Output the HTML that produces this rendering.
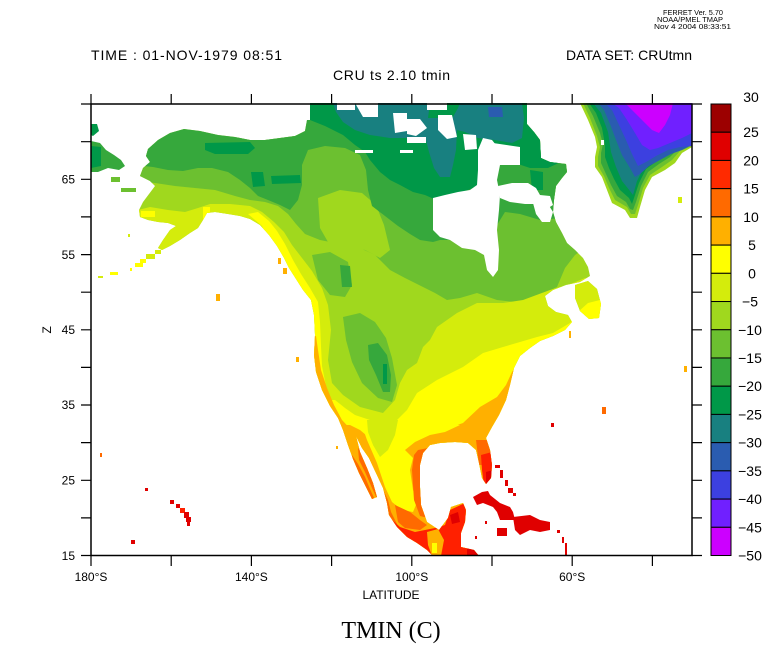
<!DOCTYPE html>
<html><head><meta charset="utf-8"><style>
html,body{margin:0;padding:0;background:#fff;}
svg{display:block;}
text{font-family:"Liberation Sans",sans-serif;fill:#000;}
</style></head><body>
<svg width="768" height="662" viewBox="0 0 768 662" xmlns="http://www.w3.org/2000/svg">
<rect x="0" y="0" width="768" height="662" fill="#fff"/>
<defs>
<clipPath id="land">
<path d="M 140,176 L 143,168 L 150,162 L 146,156 L 148,149 L 158,140 L 170,133 L 184,129 L 200,131 L 218,135 L 235,137 L 250,140 L 265,140 L 280,138 L 295,136 L 305,131 L 307,120 L 308,103 L 527,103 L 527,124 L 534,132 L 540,140 L 541,158 L 550,162 L 566,164 L 567,172 L 562,178 L 556,186 L 554,200 L 553,212 L 556,222 L 562,233 L 567,243 L 575,250 L 583,258 L 588,267 L 590,276 L 580,282 L 566,285 L 553,290 L 545,296 L 548,306 L 556,312 L 568,315 L 572,322 L 565,330 L 553,336 L 540,341 L 530,348 L 520,356 L 514,368 L 510,385 L 506,400 L 499,415 L 492,427 L 486,438 L 490,450 L 492,465 L 491,478 L 486,484 L 482,478 L 479,463 L 476,450 L 468,443 L 455,442 L 440,443 L 430,445 L 423,453 L 420,465 L 420,487 L 421,505 L 427,522 L 439,530 L 448,518 L 451,507 L 463,503 L 466,510 L 465,522 L 461,533 L 461,547 L 474,550 L 479,556 L 433,556 L 427,550 L 417,543 L 407,537 L 397,527 L 389,515 L 387,503 L 383,488 L 376,473 L 369,458 L 362,448 L 356,436 L 360,452 L 367,468 L 373,483 L 377,497 L 372,499 L 366,487 L 359,473 L 353,459 L 348,445 L 343,430 L 338,418 L 330,406 L 322,390 L 316,372 L 314,355 L 315,335 L 314,315 L 311,300 L 303,290 L 296,279 L 289,268 L 284,258 L 277,246 L 269,235 L 260,225 L 250,219 L 240,216 L 228,214 L 215,212 L 207,213 L 203,220 L 198,228 L 190,233 L 180,240 L 170,246 L 162,250 L 158,248 L 163,240 L 170,230 L 176,226 L 168,223 L 158,222 L 148,220 L 140,217 L 139,210 L 143,202 L 149,194 L 155,186 L 150,181 Z
M 575,285 L 588,281 L 597,289 L 601,304 L 599,318 L 589,319 L 580,311 L 575,298 Z"/>
</clipPath>
</defs>

<!-- Chukotka -->
<path d="M 91,141 L 100,143 L 106,150 L 114,155 L 121,160 L 125,166 L 119,170 L 108,168 L 98,172 L 91,172 Z" fill="#36a83c"/>
<path d="M 91,146 L 101,147 L 101,166 L 91,168 Z" fill="#009848"/>
<path d="M 91,124 L 97,124 L 99,131 L 93,136 L 91,135 Z" fill="#009848"/>
<rect x="121" y="188" width="15" height="4" fill="#6cc030"/>
<rect x="111" y="177" width="9" height="5" fill="#6cc030"/>

<g clip-path="url(#land)">
<rect x="80" y="100" width="620" height="460" fill="#a0d81e"/>
<path d="M 130,150 L 170,140 L 300,135 L 320,125 L 600,125 L 600,237 L 575,255 L 565,268 L 557,287 L 540,295 L 523,303 L 497,300 L 477,293 L 460,298 L 447,300 L 435,293 L 423,287 L 405,278 L 390,270 L 375,255 L 360,248 L 340,244 L 320,240 L 305,234 L 296,224 L 288,214 L 278,206 L 265,202 L 250,200 L 235,196 L 215,190 L 195,188 L 175,186 L 155,183 L 130,180 Z" fill="#6cc030"/>
<path d="M 318,198 L 340,190 L 362,193 L 376,205 L 384,225 L 390,250 L 380,258 L 365,250 L 345,246 L 328,242 L 320,228 Z" fill="#a0d81e"/>
<path d="M 130,148 L 165,132 L 190,127 L 300,130 L 308,103 L 600,103 L 600,205 L 575,212 L 560,218 L 540,220 L 520,214 L 505,212 L 497,225 L 480,240 L 440,240 L 433,242 L 420,240 L 410,234 L 398,226 L 385,216 L 372,206 L 368,190 L 366,170 L 360,155 L 345,148 L 325,146 L 308,150 L 302,165 L 302,185 L 298,200 L 290,210 L 280,205 L 268,200 L 258,196 L 250,188 L 240,180 L 228,172 L 212,168 L 198,168 L 183,171 L 168,170 L 153,167 L 135,165 Z" fill="#36a83c"/>
<path d="M 205,143 L 250,142 L 255,148 L 248,154 L 215,154 L 205,150 Z" fill="#009848"/>
<path d="M 251,172 L 263,172 L 265,186 L 253,187 Z" fill="#009848"/>
<path d="M 271,176 L 300,175 L 301,183 L 272,184 Z" fill="#009848"/>
<path d="M 530,170 L 543,172 L 543,190 L 532,190 Z" fill="#009848"/>
<path d="M 310,103 L 580,103 L 580,150 L 565,160 L 548,168 L 530,168 L 515,163 L 500,160 L 492,175 L 480,185 L 468,190 L 455,194 L 444,198 L 434,199 L 425,195 L 413,192 L 400,185 L 390,180 L 380,172 L 370,160 L 365,152 L 355,145 L 343,135 L 325,126 L 310,120 Z" fill="#009848"/>
<path d="M 333,103 L 430,103 L 428,118 L 438,118 L 453,117 L 458,108 L 460,103 L 522,103 L 524,118 L 522,138 L 512,143 L 495,140 L 478,138 L 465,132 L 457,130 L 456,150 L 453,165 L 450,177 L 440,177 L 434,168 L 429,152 L 426,140 L 410,138 L 390,138 L 370,135 L 355,130 L 343,122 L 336,112 Z" fill="#188080"/>
<path d="M 488,107 L 502,107 L 503,117 L 489,117 Z" fill="#2a5cb0"/>
<path d="M 312,255 L 330,252 L 348,262 L 352,285 L 345,297 L 330,295 L 318,280 Z" fill="#6cc030"/>
<path d="M 340,265 L 350,266 L 352,287 L 342,287 Z" fill="#36a83c"/>
<path d="M 343,317 L 360,313 L 375,322 L 386,338 L 392,358 L 397,385 L 392,402 L 378,398 L 362,383 L 352,362 L 346,340 Z" fill="#6cc030"/>
<path d="M 368,345 L 378,343 L 387,355 L 391,375 L 390,392 L 383,392 L 376,375 L 369,360 Z" fill="#36a83c"/>
<rect x="383" y="364" width="4" height="20" fill="#009848"/>
<path d="M 620,268 L 605,277 L 585,278 L 573,283 L 550,290 L 523,300 L 503,303 L 477,303 L 457,313 L 437,327 L 430,340 L 423,347 L 417,363 L 407,370 L 400,383 L 395,400 L 383,413 L 360,407 L 343,395 L 332,383 L 328,360 L 331,330 L 328,305 L 322,288 L 312,271 L 302,258 L 292,245 L 284,232 L 274,222 L 262,212 L 250,206 L 230,204 L 210,204 L 198,208 L 185,212 L 168,210 L 150,207 L 130,212 L 90,260 L 90,560 L 620,560 Z" fill="#d4ec0c"/>
<path d="M 248,214 L 262,226 L 268,240 L 276,260 L 286,276 L 294,290 L 300,302 L 302,320 L 303,345 L 306,372 L 312,393 L 322,412 L 332,425 L 341,418 L 333,404 L 326,386 L 322,366 L 321,346 L 320,322 L 318,302 L 310,288 L 301,274 L 293,260 L 285,244 L 277,231 L 269,221 L 258,212 Z" fill="#ffff00"/>
<rect x="203" y="207" width="7" height="14" fill="#ffff00"/>
<rect x="141" y="211" width="14" height="6" fill="#ffff00"/>
<path d="M 620,298 L 600,300 L 588,303 L 578,312 L 570,323 L 553,333 L 537,337 L 520,342 L 503,347 L 483,353 L 463,367 L 437,380 L 417,393 L 407,410 L 397,420 L 385,424 L 370,420 L 355,415 L 345,408 L 335,400 L 300,400 L 300,560 L 620,560 Z" fill="#ffff00"/>
<path d="M 300,338 L 303,345 L 306,372 L 312,393 L 322,412 L 332,427 L 345,440 L 352,455 L 360,470 L 370,482 L 376,470 L 366,450 L 356,435 L 342,420 L 334,405 L 327,388 L 321,370 L 318,350 L 316,336 Z" fill="#ffb000"/>
<path d="M 620,358 L 520,360 L 512,372 L 506,385 L 497,397 L 480,407 L 463,423 L 443,430 L 423,437 L 410,443 L 398,450 L 385,447 L 372,440 L 360,430 L 350,425 L 340,425 L 340,560 L 620,560 Z" fill="#ffb000"/>
<path d="M 360,420 L 367,440 L 377,463 L 385,487 L 392,502 L 402,510 L 413,512 L 418,500 L 413,490 L 410,470 L 413,458 L 405,450 L 415,442 L 430,435 L 445,432 L 460,425 L 440,423 L 420,428 L 400,425 L 380,420 Z" fill="#ffff00"/>
<path d="M 367,420 L 398,420 L 395,435 L 388,450 L 380,457 L 373,445 L 368,432 Z" fill="#d4ec0c"/>
<path d="M 358,448 L 366,455 L 374,470 L 381,485 L 388,500 L 391,512 L 397,524 L 392,528 L 385,518 L 379,503 L 372,488 L 365,472 L 359,460 Z" fill="#ff6a00"/>
<path d="M 352,455 L 358,464 L 365,477 L 370,489 L 375,500 L 370,500 L 364,489 L 358,477 L 352,464 Z" fill="#ff6a00"/>
<path d="M 418,450 L 428,448 L 426,470 L 425,500 L 428,518 L 420,516 L 414,500 L 412,470 L 414,455 Z" fill="#ff6a00"/>
<path d="M 476,440 L 491,440 L 493,465 L 479,465 Z" fill="#ff6a00"/>
<path d="M 395,505 L 410,512 L 420,520 L 427,525 L 420,530 L 405,528 L 398,522 Z" fill="#ff6a00"/>
<path d="M 390,518 L 400,527 L 415,532 L 425,530 L 435,528 L 445,525 L 450,510 L 465,503 L 467,520 L 463,545 L 478,550 L 481,556 L 415,556 L 405,545 L 396,533 Z" fill="#ff2000"/>
<path d="M 481,455 L 492,452 L 494,470 L 491,485 L 484,485 L 482,470 Z" fill="#ff2000"/>
<path d="M 427,532 L 438,529 L 444,540 L 441,556 L 432,556 L 428,545 Z" fill="#ffb000"/>
<rect x="432" y="543" width="5" height="10" fill="#ffff00"/>
<path d="M 395,530 L 405,538 L 415,545 L 420,552 L 412,552 L 402,542 L 394,535 Z" fill="#e00000"/>
<path d="M 450,515 L 458,512 L 460,522 L 452,524 Z" fill="#e00000"/>
<path d="M 467,547 L 479,548 L 479,556 L 467,556 Z" fill="#e00000"/>
<path d="M 486,472 L 493,470 L 492,484 L 486,484 Z" fill="#e00000"/>
</g>

<!-- white seas -->
<g fill="#fff">
<path d="M 433,198 L 445,195 L 458,192 L 470,190 L 477,185 L 478,170 L 478,150 L 483,138 L 492,140 L 500,150 L 500,165 L 497,180 L 500,195 L 499,210 L 497,230 L 499,250 L 498,270 L 493,277 L 487,270 L 484,255 L 475,250 L 462,248 L 450,240 L 440,237 L 433,230 Z"/>
<path d="M 498,186 L 512,183 L 528,183 L 536,188 L 540,195 L 550,196 L 553,205 L 545,210 L 534,204 L 525,204 L 510,202 L 500,198 Z"/>
<path d="M 533,203 L 548,204 L 553,212 L 550,222 L 542,222 L 536,214 Z"/>
<path d="M 337,103 L 355,103 L 355,110 L 337,110 Z"/>
<path d="M 355,103 L 378,103 L 378,117 L 363,117 Z"/>
<path d="M 393,113 L 407,113 L 407,131 L 395,133 Z"/>
<path d="M 407,119 L 420,119 L 427,128 L 416,136 L 407,134 Z"/>
<path d="M 407,137 L 426,137 L 426,143 L 407,143 Z"/>
<path d="M 438,115 L 452,115 L 455,128 L 457,137 L 447,139 L 438,130 Z"/>
<path d="M 427,103 L 447,103 L 447,110 L 427,110 Z"/>
<path d="M 463,134 L 476,135 L 477,149 L 465,150 Z"/>
<path d="M 493,143 L 520,147 L 520,165 L 500,165 Z"/>
<rect x="355" y="150" width="18" height="3"/>
<rect x="400" y="150" width="13" height="3"/>
<rect x="300" y="103" width="10" height="17"/>
</g>

<!-- Greenland -->
<path d="M 580,103 L 692,103 L 692,147 L 682,153 L 675,163 L 665,170 L 652,177 L 645,190 L 640,207 L 637,218 L 630,218 L 625,210 L 612,203 L 607,190 L 602,177 L 595,167 L 595,157 L 597,147 L 595,137 L 588,120 Z" fill="#a0d81e"/>
<path d="M 583,103 L 692,103 L 692,146 L 680,151 L 672,160 L 662,167 L 650,175 L 643,188 L 638,205 L 635,214 L 631,214 L 627,207 L 615,200 L 609,188 L 604,176 L 598,166 L 598,157 L 600,147 L 597,136 L 590,118 Z" fill="#6cc030"/>
<path d="M 586,103 L 692,103 L 692,144 L 678,149 L 670,157 L 659,164 L 648,172 L 641,186 L 636,202 L 633,210 L 630,209 L 626,202 L 617,196 L 611,185 L 606,174 L 601,163 L 601,153 L 603,144 L 600,133 L 593,116 Z" fill="#36a83c"/>
<path d="M 589,103 L 692,103 L 692,142 L 676,146 L 667,154 L 657,161 L 646,169 L 639,183 L 634,198 L 632,204 L 629,198 L 620,190 L 614,179 L 609,168 L 605,157 L 605,145 L 602,128 L 596,113 Z" fill="#009848"/>
<path d="M 593,103 L 692,103 L 692,140 L 674,144 L 664,151 L 654,158 L 644,167 L 637,181 L 633,195 L 630,191 L 622,181 L 616,167 L 611,152 L 608,132 L 601,113 Z" fill="#188080"/>
<path d="M 598,103 L 692,103 L 692,145 L 682,150 L 671,154 L 660,160 L 649,166 L 640,174 L 635,177 L 630,168 L 622,155 L 616,140 L 610,124 L 604,110 Z" fill="#2a5cb0"/>
<path d="M 605,103 L 692,103 L 692,146 L 680,147 L 668,150 L 656,156 L 646,162 L 638,166 L 632,154 L 626,140 L 619,125 L 612,110 Z" fill="#3c40e0"/>
<path d="M 612,103 L 692,103 L 692,133 L 682,138 L 670,143 L 658,148 L 650,150 L 642,145 L 635,133 L 627,120 L 619,108 Z" fill="#7020ff"/>
<path d="M 625,103 L 673,103 L 670,115 L 665,125 L 659,133 L 652,130 L 644,122 L 636,114 L 629,107 Z" fill="#cc00ff"/>
<rect x="601" y="140" width="3" height="5" fill="#fff"/>

<!-- islands / dots -->
<rect x="98" y="276" width="5" height="2" fill="#d4ec0c"/>
<rect x="110" y="272" width="8" height="3" fill="#ffff00"/>
<rect x="130" y="268" width="2" height="3" fill="#ffff00"/>
<rect x="135" y="263" width="8" height="4" fill="#ffff00"/>
<rect x="140" y="259" width="6" height="4" fill="#ffff00"/>
<rect x="146" y="254" width="9" height="5" fill="#d4ec0c"/>
<rect x="155" y="250" width="6" height="4" fill="#d4ec0c"/>
<rect x="128" y="234" width="2" height="3" fill="#d4ec0c"/>
<rect x="278" y="258" width="3" height="6" fill="#ffb000"/>
<rect x="283" y="268" width="4" height="6" fill="#ffb000"/>
<rect x="678" y="197" width="4" height="6" fill="#d4ec0c"/>
<rect x="216" y="294" width="4" height="7" fill="#ffb000"/>
<rect x="296" y="357" width="3" height="5" fill="#ffb000"/>
<rect x="602" y="407" width="4" height="7" fill="#ff6a00"/>
<rect x="684" y="366" width="3" height="6" fill="#ffb000"/>
<rect x="551" y="423" width="3" height="4" fill="#e00000"/>
<rect x="569" y="331" width="2" height="7" fill="#ffb000"/>
<rect x="336" y="446" width="2" height="3" fill="#ffb000"/>
<rect x="145" y="488" width="3" height="3" fill="#e00000"/>
<rect x="131" y="540" width="4" height="4" fill="#e00000"/>
<rect x="100" y="453" width="2" height="4" fill="#ff6a00"/>
<rect x="170" y="500" width="4" height="4" fill="#e00000"/>
<rect x="176" y="504" width="4" height="4" fill="#e00000"/>
<rect x="180" y="508" width="5" height="5" fill="#ff2000"/>
<rect x="184" y="512" width="5" height="6" fill="#e00000"/>
<rect x="186" y="517" width="5" height="5" fill="#e00000"/>
<rect x="187" y="522" width="3" height="4" fill="#e00000"/>
<g fill="#e00000">
<path d="M 473,497 L 482,492 L 488,491 L 490,495 L 500,503 L 510,507 L 513,512 L 515,520 L 500,520 L 497,512 L 493,507 L 483,503 L 477,505 Z"/>
<path d="M 513,517 L 530,515 L 540,520 L 550,522 L 550,530 L 540,532 L 530,530 L 520,535 L 515,530 Z"/>
<path d="M 497,528 L 507,528 L 507,536 L 497,536 Z"/>
<rect x="495" y="465" width="5" height="3"/>
<rect x="500" y="470" width="3" height="8"/>
<rect x="505" y="480" width="3" height="6"/>
<rect x="508" y="488" width="5" height="5"/>
<rect x="513" y="493" width="3" height="3"/>
<rect x="485" y="521" width="2" height="3"/>
<rect x="475" y="536" width="2" height="3"/>
<rect x="557" y="530" width="3" height="3"/>
<rect x="562" y="537" width="2" height="6"/>
<rect x="565" y="543" width="2" height="12"/>
</g>

<!-- frame -->
<rect x="91" y="104" width="601" height="451.5" fill="none" stroke="#000" stroke-width="1.5"/>
<g stroke="#000" stroke-width="1.2">
<path d="M91,104V94 M171.2,104V94 M251.4,104V94 M331.6,104V94 M411.8,104V94 M492,104V94 M572.2,104V94 M652.4,104V94"/>
<path d="M91,555.5V566 M171.2,555.5V566 M251.4,555.5V566 M331.6,555.5V566 M411.8,555.5V566 M492,555.5V566 M572.2,555.5V566 M652.4,555.5V566"/>
<path d="M91,555.5H81 M91,517.9H81 M91,480.3H81 M91,442.6H81 M91,405H81 M91,367.4H81 M91,329.8H81 M91,292.2H81 M91,254.6H81 M91,216.9H81 M91,179.3H81 M91,141.7H81 M91,104H81"/>
<path d="M692,555.5H702 M692,517.9H702 M692,480.3H702 M692,442.6H702 M692,405H702 M692,367.4H702 M692,329.8H702 M692,292.2H702 M692,254.6H702 M692,216.9H702 M692,179.3H702 M692,141.7H702 M692,104H702"/>
</g>

<!-- colorbar -->
<g stroke="#000" stroke-width="1">
<rect x="711" y="104" width="20" height="28.22" fill="#9c0000"/>
<rect x="711" y="132.22" width="20" height="28.22" fill="#e00000"/>
<rect x="711" y="160.44" width="20" height="28.22" fill="#ff2a00"/>
<rect x="711" y="188.66" width="20" height="28.22" fill="#ff6a00"/>
<rect x="711" y="216.88" width="20" height="28.22" fill="#ffb000"/>
<rect x="711" y="245.1" width="20" height="28.22" fill="#ffff00"/>
<rect x="711" y="273.32" width="20" height="28.22" fill="#d4ec0c"/>
<rect x="711" y="301.54" width="20" height="28.22" fill="#a0d81e"/>
<rect x="711" y="329.76" width="20" height="28.22" fill="#6cc030"/>
<rect x="711" y="357.98" width="20" height="28.22" fill="#36a83c"/>
<rect x="711" y="386.2" width="20" height="28.22" fill="#009848"/>
<rect x="711" y="414.42" width="20" height="28.22" fill="#188080"/>
<rect x="711" y="442.64" width="20" height="28.22" fill="#2a5cb0"/>
<rect x="711" y="470.86" width="20" height="28.22" fill="#3c40e0"/>
<rect x="711" y="499.08" width="20" height="28.22" fill="#7020ff"/>
<rect x="711" y="527.3" width="20" height="28.22" fill="#cc00ff"/>
</g>
<g font-size="14" text-anchor="middle">
<text x="751" y="102">30</text>
<text x="751" y="137">25</text>
<text x="751" y="165.5">20</text>
<text x="751" y="193.7">15</text>
<text x="751" y="222">10</text>
<text x="752" y="250">5</text>
<text x="752" y="278.3">0</text>
<text x="750" y="306.5">−5</text>
<text x="750" y="334.8">−10</text>
<text x="750" y="363">−15</text>
<text x="750" y="391.2">−20</text>
<text x="750" y="419.4">−25</text>
<text x="750" y="447.6">−30</text>
<text x="750" y="475.9">−35</text>
<text x="750" y="504.1">−40</text>
<text x="750" y="532.3">−45</text>
<text x="750" y="560.5">−50</text>
</g>

<g font-size="12" text-anchor="end">
<text x="75" y="183.5">65</text>
<text x="75" y="259">55</text>
<text x="75" y="334">45</text>
<text x="75" y="409">35</text>
<text x="75" y="484.5">25</text>
<text x="75" y="560">15</text>
</g>
<text x="0" y="0" font-size="12" text-anchor="middle" transform="translate(51,329.8) rotate(-90)">Z</text>
<g font-size="12" text-anchor="middle">
<text x="91" y="581">180°S</text>
<text x="251.4" y="581">140°S</text>
<text x="411.8" y="581">100°S</text>
<text x="572.2" y="581">60°S</text>
<text x="391" y="599">LATITUDE</text>
</g>
<text x="391" y="638" font-size="24" text-anchor="middle" style="font-family:'Liberation Serif',serif">TMIN (C)</text>

<text x="91" y="60" font-size="14" textLength="191" lengthAdjust="spacing">TIME : 01-NOV-1979 08:51</text>
<text x="566" y="60" font-size="14" textLength="126" lengthAdjust="spacing">DATA SET: CRUtmn</text>
<text x="333" y="80" font-size="14" textLength="117" lengthAdjust="spacing">CRU ts 2.10 tmin</text>
<text x="663" y="15" font-size="7" textLength="60" lengthAdjust="spacingAndGlyphs">FERRET Ver. 5.70</text>
<text x="657" y="22" font-size="7" textLength="66" lengthAdjust="spacingAndGlyphs">NOAA/PMEL TMAP</text>
<text x="654" y="29" font-size="7" textLength="77" lengthAdjust="spacingAndGlyphs">Nov  4 2004 08:33:51</text>
</svg>
</body></html>
